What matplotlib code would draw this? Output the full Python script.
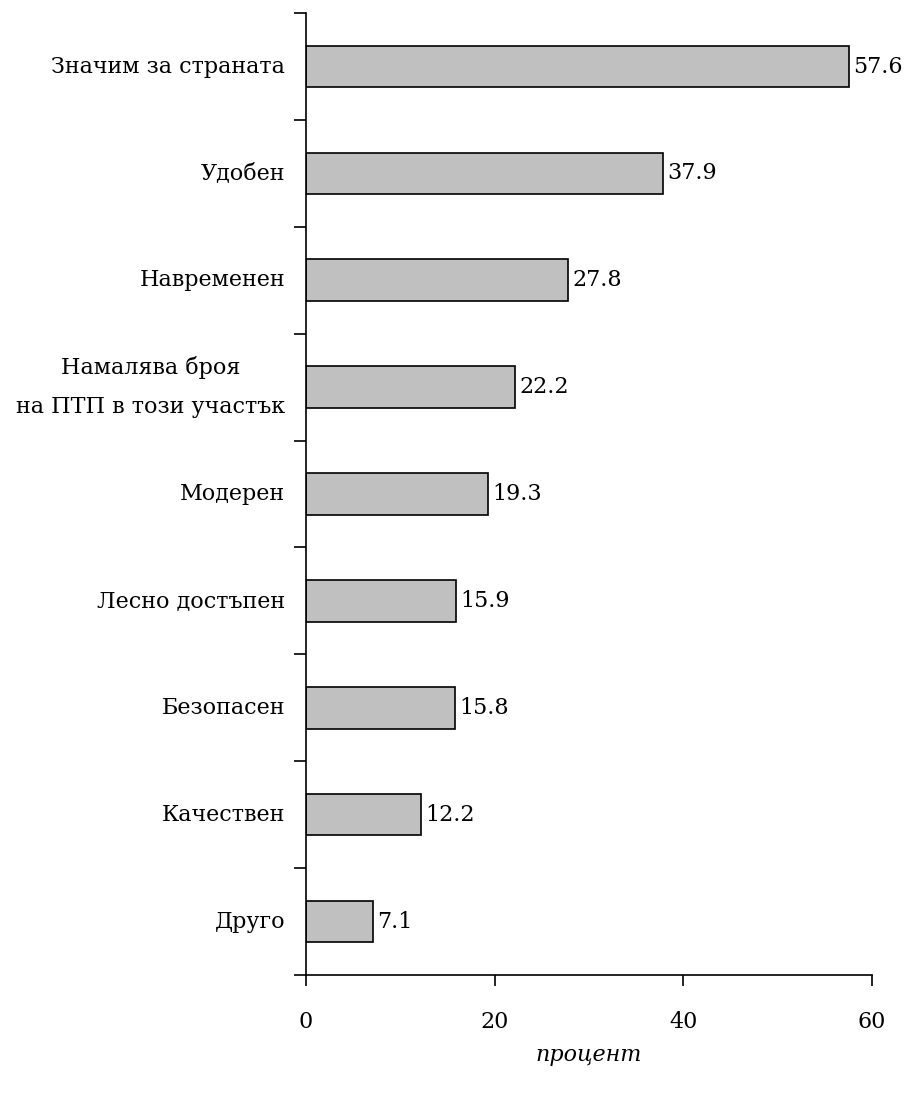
import numpy as np
import matplotlib.pyplot as plt
import matplotlib as mpl

mpl.rc('font', family=['DejaVu Serif'], size=16)
mpl.rc('axes', linewidth=1.2, edgecolor="#000000")

categories = ["Значим за страната", "Удобен", "Навременен",
              "Намалява броя\nна ПТП в този участък", "Модерен",
              "Лесно достъпен", "Безопасен", "Качествен", "Друго"]
values = [57.6, 37.9, 27.8, 22.2, 19.3, 15.9, 15.8, 12.2, 7.1]
xticks = [0, 20, 40, 60]


def main():
    fig = plt.figure(figsize=(9.08, 10.93), dpi=100)
    ax = fig.add_axes([0.337, 0.108, 0.623, 0.880])

    y = np.arange(len(categories))
    ax.barh(y, values, height=0.39, color="#c0c0c0", edgecolor="black", linewidth=1.2)

    for yi, v in zip(y, values):
        ax.text(v + 0.45, yi, f"{v:.1f}", va='center', ha='left', fontsize=16)

    ax.set_ylim(len(categories) - 0.5, -0.5)
    ax.set_xlim(0, 60)

    # boundary ticks between categories, labels at centers
    ax.set_yticks(np.arange(len(categories) + 1) - 0.5)
    ax.set_yticklabels([])
    ax.set_yticks(y, minor=True)
    ax.set_yticklabels(categories, minor=True, ha='right', va='center',
                       multialignment='center', linespacing=2.0)
    ax.tick_params(axis='y', which='minor', length=0, pad=15)
    ax.tick_params(axis='y', which='major', length=9, width=1.2, direction='out')

    ax.set_xticks(xticks)
    ax.tick_params(axis='x', length=8, width=1.2, direction='out', pad=18)
    ax.set_xlabel("процент", style='italic', labelpad=8)

    ax.spines['right'].set_visible(False)
    ax.spines['top'].set_visible(False)

    fig.savefig("out.png", dpi=100)


main()
